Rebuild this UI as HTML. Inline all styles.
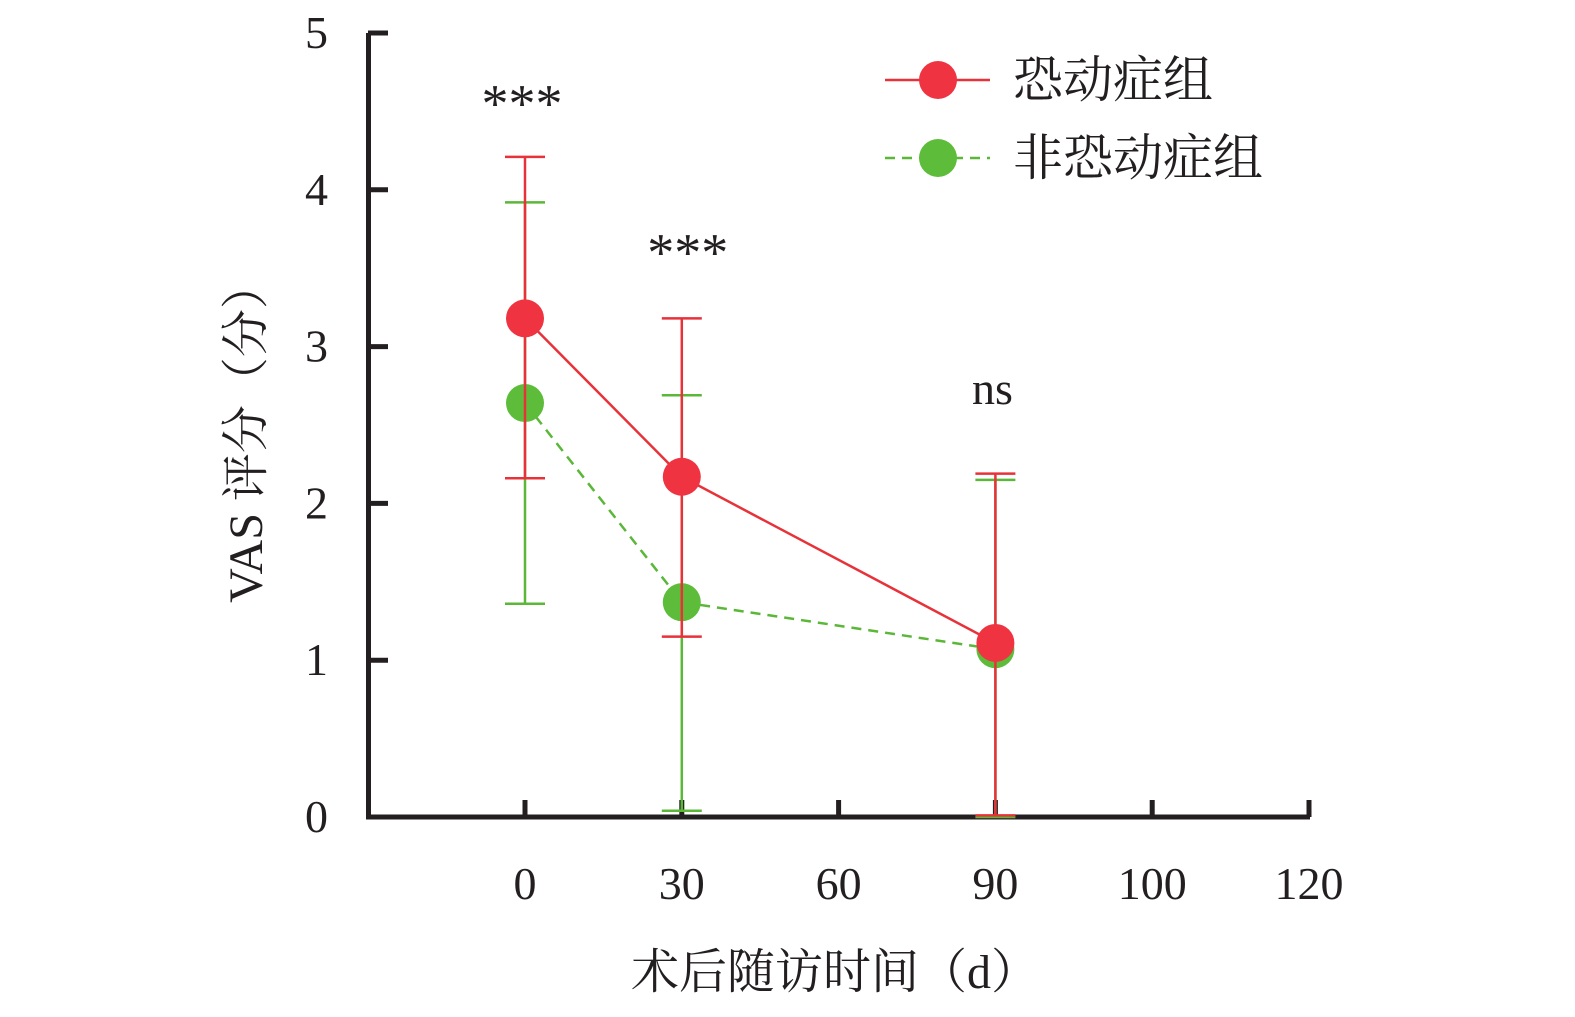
<!DOCTYPE html>
<html><head><meta charset="utf-8"><style>
body{margin:0;background:#fff}
svg text{font-family:"Liberation Serif","Noto Serif CJK SC",serif;fill:#231f20}
</style></head><body>
<svg id="chart" width="1575" height="1012" viewBox="0 0 1575 1012" xmlns="http://www.w3.org/2000/svg">
<g id="axes"></g><g id="series"></g>
<text x="0" y="0" transform="translate(262,432) rotate(-90)" text-anchor="middle" font-size="48">VAS 评分（分）</text>
<text x="835" y="988" text-anchor="middle" font-size="48">术后随访时间（d）</text>
<g>
<line x1="885" y1="80" x2="990" y2="80" stroke="#e8323a" stroke-width="2.5"/>
<circle cx="938" cy="80" r="19" fill="#ef3340"/>
<text x="1013" y="97" font-size="50">恐动症组</text>
<line x1="885" y1="158" x2="990" y2="158" stroke="#5ab738" stroke-width="2.5" stroke-dasharray="10,7"/>
<circle cx="938" cy="158" r="19" fill="#5dbd3a"/>
<text x="1013" y="175" font-size="50">非恐动症组</text>
</g>
</svg>
<script>
const xLabels=["0","30","60","90","100","120"];
const yTicks=[0,1,2,3,4,5];
const dataCats=["0","30","90"];
const redMean=[3.18,2.17,1.11];
const redUpper=[4.21,3.18,2.19];
const redLower=[2.16,1.15,0.01];
const greenMean=[2.64,1.37,1.07];
const greenUpper=[3.92,2.69,2.15];
const greenLower=[1.36,0.04,0.0];
const sigLabels=["***","***","ns"];
const sigY=[4.55,3.6,2.75];
const NS="http://www.w3.org/2000/svg";
const Xi=i=>525+i*156.8;
const X=i=>Xi(xLabels.indexOf(dataCats[i]));
const Y=v=>817-v*156.8;
function mk(p,tag,a){const e=document.createElementNS(NS,tag);for(const k in a)e.setAttribute(k,a[k]);p.appendChild(e);return e;}
const ax=document.getElementById('axes'),se=document.getElementById('series');
let l=mk(ax,'path',{d:`M368.5 ${Y(5)} V${Y(0)} H1310`,fill:'none',stroke:'#231f20','stroke-width':5});

yTicks.forEach(v=>{
 let t=mk(ax,'line',{x1:368,x2:388,y1:Y(v),y2:Y(v),stroke:'#231f20','stroke-width':5});
 
 let tx=mk(ax,'text',{x:328,y:Y(v)+15,'text-anchor':'end','font-size':46});tx.textContent=v;
 
});
xLabels.forEach((s,i)=>{
 let t=mk(ax,'line',{x1:Xi(i),x2:Xi(i),y1:Y(0),y2:Y(0)-17,stroke:'#231f20','stroke-width':5});
 
 let tx=mk(ax,'text',{x:Xi(i),y:899,'text-anchor':'middle','font-size':46});tx.textContent=s;
 
});
function errs(up,lo,col){up.forEach((u,i)=>{
 let g=mk(se,'path',{d:`M${X(i)} ${Y(u)} V${Y(lo[i])} M${X(i)-20} ${Y(u)} h40 M${X(i)-20} ${Y(lo[i])} h40`,stroke:col,'stroke-width':2.5,fill:'none'});
 });}
function line(m,col,dash){let p=mk(se,'polyline',{points:m.map((v,i)=>X(i)+','+Y(v)).join(' '),fill:'none',stroke:col,'stroke-width':2.5});
 if(dash)p.setAttribute('stroke-dasharray','10,7');
 }
function pts(m,col){m.forEach((v,i)=>{let c=mk(se,'circle',{cx:X(i),cy:Y(v),r:19,fill:col});
 });}
errs(greenUpper,greenLower,'#5ab738');line(greenMean,'#5ab738',true);pts(greenMean,'#5dbd3a');
errs(redUpper,redLower,'#e8323a');line(redMean,'#e8323a',false);pts(redMean,'#ef3340');
sigLabels.forEach((s,i)=>{let t=mk(se,'text',{x:X(i)+(i==0?-3:i==1?6:-3),y:Y(sigY[i])+18,'text-anchor':'middle','font-size':s=='ns'?46:54});t.textContent=s;
 });
</script>
</body></html>
